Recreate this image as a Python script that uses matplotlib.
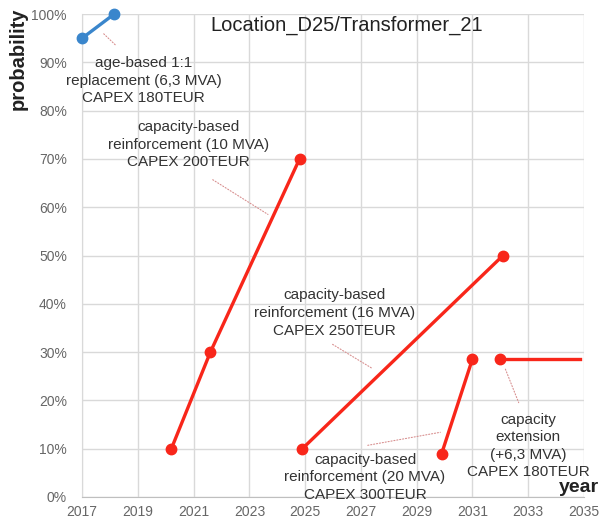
import matplotlib.pyplot as plt
from matplotlib.ticker import PercentFormatter

plt.rcParams['font.family'] = ['Liberation Sans', 'DejaVu Sans']

# measure paths: (year, probability)
age_years = [2017.0, 2018.15]
age_prob = [0.95, 1.00]
cap10_years = [2020.2, 2021.6, 2024.8]
cap10_prob = [0.10, 0.30, 0.70]
cap16_years = [2024.9, 2032.1]
cap16_prob = [0.10, 0.50]
cap20_years = [2029.9, 2031.0]
cap20_prob = [0.09, 0.285]
ext_years = [2032.0, 2034.85]
ext_prob = [0.285, 0.285]

year_ticks = list(range(2017, 2036, 2))
prob_ticks = [i / 10 for i in range(11)]

labels = [
    "age-based 1:1\nreplacement (6,3 MVA)\nCAPEX 180TEUR",
    "capacity-based\nreinforcement (10 MVA)\nCAPEX 200TEUR",
    "capacity-based\nreinforcement (16 MVA)\nCAPEX 250TEUR",
    "capacity-based\nreinforcement (20 MVA)\nCAPEX 300TEUR",
    "capacity\nextension\n(+6,3 MVA)\nCAPEX 180TEUR",
]
label_pos = [(2019.2, 0.862), (2020.8, 0.729), (2026.05, 0.381),
             (2027.15, 0.041), (2033.0, 0.106)]
# leader line: (point on path, start near the label)
leaders = [((2018.3, 0.93), (2017.7, 0.963)),
           ((2023.75, 0.582), (2021.6, 0.66)),
           ((2027.5, 0.263), (2025.9, 0.319)),
           ((2029.95, 0.135), (2027.15, 0.106)),
           ((2032.7, 0.19), (2032.15, 0.27))]

red = '#f8261a'
blue = '#3a86cc'

fig = plt.figure(figsize=(6, 5.29), dpi=100)
ax = fig.add_axes([0.137, 0.0605, 0.836, 0.913])

ax.plot(age_years, age_prob, color=blue, lw=2.4, marker='o', ms=7.5, clip_on=False, zorder=4)
ax.plot(cap10_years, cap10_prob, color=red, lw=2.4, marker='o', ms=7.5, clip_on=False, zorder=4)
ax.plot(cap16_years, cap16_prob, color=red, lw=2.4, marker='o', ms=7.5, clip_on=False, zorder=4)
ax.plot(cap20_years, cap20_prob, color=red, lw=2.4, marker='o', ms=7.5, clip_on=False, zorder=4)
ax.plot(ext_years, ext_prob, color=red, lw=2.4, marker='o', ms=7.5, markevery=[0],
        clip_on=False, zorder=4)

for (xy, xytext) in leaders:
    ax.annotate('', xy=xy, xytext=xytext,
                arrowprops=dict(arrowstyle='-', color='#d89090', lw=0.8, linestyle=':'))

for txt, (x, y) in zip(labels, label_pos):
    ax.text(x, y, txt, ha='center', va='center', fontsize=11, color='#333333',
            linespacing=1.32, zorder=5)

ax.text(0.528, 0.977, "Location_D25/Transformer_21", transform=ax.transAxes,
        ha='center', va='center', fontsize=14.5, color='#222222')

ax.set_xlim(2017, 2035)
ax.set_ylim(0, 1)
ax.set_xticks(year_ticks)
ax.set_yticks(prob_ticks)
ax.yaxis.set_major_formatter(PercentFormatter(1.0, decimals=0))
ax.tick_params(length=0, labelsize=10, labelcolor='#666666')
ax.tick_params(axis='y', pad=11)
ax.tick_params(axis='x', pad=6)
ax.grid(True, color='#d9d9d9', lw=1)
for side in ['top', 'right']:
    ax.spines[side].set_visible(False)
ax.spines['left'].set_color('#d9d9d9')
ax.spines['bottom'].set_color('#bfbfbf')

fig.text(0.03, 0.985, "probability", rotation=90, ha='center', va='top',
         fontsize=14.5, fontweight='bold', color='#222222')
fig.text(0.998, 0.062, "year", ha='right', va='bottom',
         fontsize=14, fontweight='bold', color='#222222')

fig.savefig('out.png', dpi=100)
